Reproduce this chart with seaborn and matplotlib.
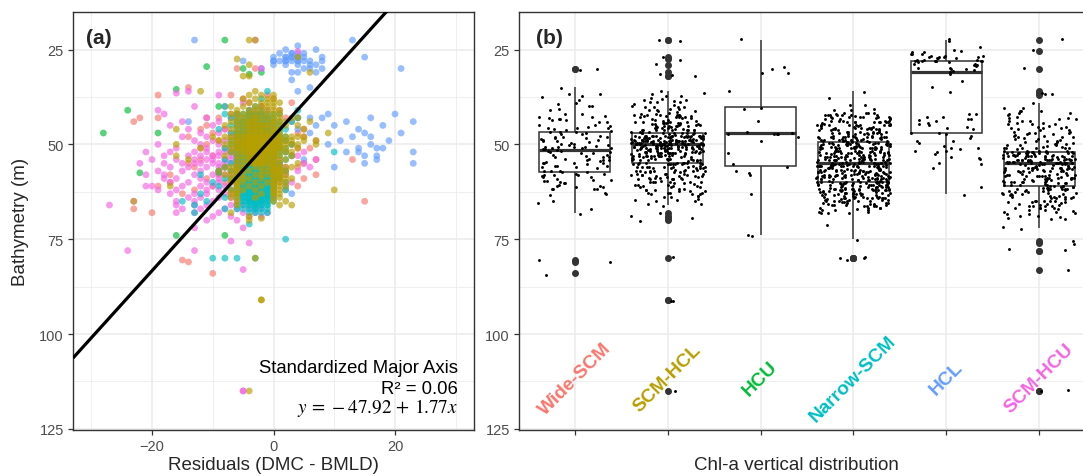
import numpy as np
import pandas as pd
import matplotlib
matplotlib.use("Agg")
import matplotlib.pyplot as plt
import seaborn as sns

# ---------------------------------------------------------------------------
# Data
# ---------------------------------------------------------------------------
categories = ["Wide-SCM", "SCM-HCL", "HCU", "Narrow-SCM", "HCL", "SCM-HCU"]
colors = ["#F8766D", "#B79F00", "#00BA38", "#00BFC4", "#619CFF", "#F564E3"]

# Bathymetry (m) of the stations of each group, listed depth by depth; the
# matching *_resid list holds the residuals (DMC - BMLD, m) of the stations
# found at that depth.
wide_scm_depth = [30, 35, 37, 38, 39, 40, 41, 42, 43, 44, 45, 46,
                  47, 48, 49, 50, 51,
                  52, 53, 54, 55, 56, 57,
                  58, 59, 60, 61, 62, 63, 65, 67, 68, 80.5, 81, 84]
wide_scm_resid = [
    [-6, -3], [-14], [-19, -7, -1], [-5, 0], [3, -4], [-2, -8], [-3, 1],
    [-2, -4, -7], [-22, -19, -9, -11, 2], [-23, -6, -3, 3], [-11, -1, 0, -5],
    [5, -12, -2, -4, -8],
    [-10, -3, -5, -1, 4, -6, -2], [-14, 5, -4, -2, 0, -7], [-9, -3, -1, 2, -5, 7],
    [-11, -4, -2, 0, 3, -6], [-8, -3, -1, 1, -5, 4, -2, -4, 6, -12],
    [-7, -3, -1, 2, -5, -2], [-10, -4, 0, 3, -6, -2], [-12, -3, -1, 7, 13, -5],
    [-14, -4, -2, 1, -6, 5], [-13, -3, -1, -8, 4, -5], [-4, -2, 2, -9, -6],
    [-17, -3, -5, -1, 7, -9], [-4, -2, 5, -11, 0], [-17, -3, -6, 1, -8],
    [-19, 4, -2, -4, -10], [-5, -1, -13, 2], [-3, -7, -15], [15, -4], [-23],
    [-20], [-15], [-14], [-10],
]

scm_hcl_depth = [22.5, 27, 27.5, 29, 31, 32,
                 36, 37, 38, 39, 40, 41, 42, 43, 44, 45, 46, 47,
                 48, 49, 50, 51, 52, 53, 54, 55,
                 56, 57, 58, 59, 60, 61, 62, 63, 64, 65, 66,
                 68, 69, 69.5, 70, 80, 91, 115]
scm_hcl_resid = [
    [-4, -3], [4], [-6], [-4], [6], [-4, -5],
    [-12, -3], [-2, 0, -4], [-3, -1, 0, -5], [-4, -2, -1, 0, 1],
    [-5, -3, -2, -1, 0, -7], [-4, -3, -2, -1, 0, 1, -6],
    [-5, -4, -3, -2, -1, 0, 1, -6, -7],
    [-5, -4, -3, -3, -2, -1, 0, 1, 3, -6, 4],
    [-5, -4, -4, -3, -3, -2, -1, 0, 1, 6, -6, 2, -7, 0],
    [-5, -4, -4, -3, -3, -2, -2, -1, 0, 1, 4, -6, -8, -1, 2],
    [-16, -5, -4, -4, -3, -3, -2, -2, -1, 0, 1, 5, -6, -7, 0],
    [-5, -4, -4, -3, -3, -2, -2, -1, -1, 0, 1, 9, -6],
    [-5, -5, -4, -4, -4, -3, -3, -3, -2, -2, -2, -2, -1, -1, -1, 0, 0, 0,
     1, 1, 2, 3, 4, 5, -6, -6, -7, -8, -10, -3, -2, -4, -1],
    [-5, -5, -4, -4, -4, -3, -3, -3, -3, -2, -2, -2, -2, -1, -1, -1, -1, 0,
     0, 0, 1, 1, 2, 3, 5, 7, -6, -6, -7, -9, -3, -2, -4, -1, 0],
    [-16, -5, -5, -5, -4, -4, -4, -4, -3, -3, -3, -3, -3, -2, -2, -2, -2, -2,
     -1, -1, -1, -1, 0, 0, 0, 0, 1, 1, 2, 3, 4, 7, -6, -6, -7, -8, -3, -2,
     -4, -1],
    [-12, -5, -5, -4, -4, -4, -3, -3, -3, -3, -2, -2, -2, -2, -1, -1, -1, 0,
     0, 0, 1, 1, 2, 4, -6, -6, -7, -3, -2, -1],
    [-5, -5, -4, -4, -3, -3, -3, -2, -2, -2, -1, -1, -1, 0, 0, 0, 1, 2, 3,
     -6, -7, -3, -2, -4],
    [-5, -4, -4, -3, -3, -3, -2, -2, -2, -1, -1, 0, 0, 1, 3, -6, -8, -3, -2,
     -16],
    [-14, -5, -4, -4, -3, -3, -2, -2, -1, -1, 0, 0, 1, 2, -6, -3, -2],
    [-5, -4, -4, -3, -3, -2, -2, -1, -1, 0, 0, 1, 4, -6, -3, -2],
    [-8, -7, -6, -6, -5, 0, 0, 1, 1, 2, 3, -3, -1, -2, 0],
    [-9, -7, -6, -6, -5, 0, 0, 1, 1, 2, -4, -2, -1, 0],
    [-7, -6, -6, -5, 0, 1, 1, 2, -3, -1, 0, -8, -2],
    [-7, -6, -6, 0, 1, 1, 2, -4, -2, 0, -5, 3],
    [-7, -6, -5, 0, 1, 2, -3, -1, 0, -6],
    [-17, -6, -6, 0, 1, -4, -2, 0, 2],
    [10, -7, -6, 0, 1, -3, 0, -5],
    [-6, -6, 0, 1, -2, 0, -7],
    [-6, 0, 1, -3, -7],
    [-23, 2, -6, 0],
    [-6, 1, 3],
    [-7], [-4], [-2], [-4], [-3], [-2, -2], [-4],
]

hcu_depth = [22.5, 29.5, 30, 31, 31.5, 35.5, 40, 41, 44, 47, 48, 49, 52, 55,
             56, 57.5, 58, 63, 74]
hcu_resid = [
    [-8], [-11], [-5], [-2], [-4], [-16], [-9], [-24], [-4],
    [-28, -19, -3, -1, -5, -2], [0], [-3], [-2], [-4], [-1], [-22, -9], [-3],
    [-2], [-16, -8],
]

narrow_scm_depth = [36, 38, 40, 41, 42, 43, 44, 45, 46, 47, 48, 49,
                    50, 51, 52, 53, 54, 55, 56, 57, 58, 59, 60,
                    61, 62, 63, 64, 65, 66, 67, 68, 71, 75, 80]
narrow_scm_resid = [
    [-1], [-2], [-8, -3], [-4, 4, -2],
    [-8, -5, -4, -4, -3, -3, -2, -2, -1, 0, 1, -6],
    [-5, -4, -4, -3, -3, -2, -2, -1, -1, 0, 4, -6, -7],
    [-5, -5, -4, -4, -3, -3, -2, -2, -1, -1, 0, 1, -6, 3],
    [-5, -5, -4, -4, -3, -3, -3, -2, -2, -1, -1, 0, 1, -6, -7],
    [-9, -5, -5, -4, -4, -3, -3, -3, -2, -2, -1, -1, 0, 1, -6, 2],
    [-7, -5, -5, -4, -4, -4, -3, -3, -3, -2, -2, -1, -1, 0, 1, -6, -6],
    [-5, -5, -4, -4, -4, -3, -3, -3, -2, -2, -2, -1, -1, 0, 1, -6, -6, 2],
    [-5, -5, -4, -4, -4, -3, -3, -3, -2, -2, -2, -1, -1, 0, 1, -6, -7, 2],
    [-5, -5, -5, -4, -4, -4, -3, -3, -3, -3, -2, -2, -2, -1, -1, -1, 0, 0, 1,
     -6, -6, -7, 3],
    [-5, -5, -5, -4, -4, -4, -3, -3, -3, -3, -2, -2, -2, -1, -1, -1, 0, 0, 1,
     -6, -6, -8, 2],
    [10, -5, -5, -4, -4, -4, -4, -3, -3, -3, -3, -2, -2, -2, -1, -1, -1, 0, 0,
     1, -6, -7, 2],
    [-5, -5, -5, -4, -4, -4, -3, -3, -3, -3, -2, -2, -2, -1, -1, -1, 0, 0, 1,
     -6, -6, 3],
    [-5, -5, -5, -4, -4, -4, -3, -3, -3, -3, -2, -2, -2, -1, -1, -1, 0, 0, -6,
     -6, -8, 2],
    [-5, -5, -5, -4, -4, -4, -4, -3, -3, -3, -3, -2, -2, -2, -1, -1, -1, 0, 0,
     1, -6, -7],
    [-5, -5, -5, -4, -4, -4, -4, -3, -3, -3, -3, -3, -2, -2, -2, -2, -1, -1,
     -1, 0, 0, 1, -6, -6, -8],
    [-5, -5, -5, -4, -4, -4, -4, -3, -3, -3, -3, -3, -2, -2, -2, -2, -1, -1,
     -1, 0, 0, 2, -6, -7, -9],
    [-5, -5, -5, -4, -4, -4, -4, -3, -3, -3, -3, -3, -2, -2, -2, -2, -1, -1,
     -1, 0, 0, 1, -6, -6, -12],
    [-5, -5, -5, -4, -4, -4, -4, -3, -3, -3, -3, -3, -2, -2, -2, -2, -1, -1,
     -1, 0, 0, 1, -6, -7, -8],
    [-5, -5, -5, -4, -4, -4, -4, -3, -3, -3, -3, -3, -2, -2, -2, -2, -1, -1,
     -1, 0, 0, 2, -6, -6, -10],
    [-5, -5, -5, -4, -4, -4, -4, -3, -3, -3, -3, -2, -2, -2, -2, -1, -1, -1,
     0, 0, -6, -9],
    [-5, -5, -5, -4, -4, -4, -4, -3, -3, -3, -3, -2, -2, -2, -2, -1, -1, -1,
     0, 2, -6, -7],
    [-5, -5, -4, -4, -4, -4, -3, -3, -3, -3, -2, -2, -2, -2, -1, -1, -1, 0,
     -6, -12],
    [-5, -5, -4, -4, -4, -3, -3, -3, -3, -2, -2, -2, -1, -1, -1, 0, -6, -8],
    [-5, -5, -4, -4, -4, -3, -3, -3, -2, -2, -2, -1, -1, 0, -11, -15],
    [-5, -4, -4, -3, -3, -3, -2, -2, -1, -1, -6, -13],
    [-5, -4, -3, -3, -2, -1, -8, -6],
    [-4, -3, -2, -1, -13],
    [-4], [2], [-10, -8, -6, -3],
]

hcl_depth = [22.5, 24, 25, 26, 27, 28, 29, 30, 31, 33, 35, 36,
             42, 43, 44, 45, 46, 47, 48, 49, 50, 51, 52, 53, 54, 55, 56, 61, 63]
hcl_resid = [
    [-13, 13], [4], [7, 2], [1, 3, 3, 4, 5],
    [2, 2, 3, 3, 4, 4, 5, 8, 15, 0],
    [-5, 0, 0, 1, 2, 2, 3, 4, 4, 6, 8, 5],
    [0, 2, 4, 6, 7], [-2, 5, 6, 8, 21], [7, 4, 3], [3], [6], [4],
    [20, 9], [4, 6, 8, 16], [23, 12, -14], [7, 10, 18], [14, 4], [15, 21, 6],
    [16, 13], [11, 19], [16, 9], [18, 14, 17], [14, 23, 12], [15, 17], [17, 5],
    [15, 23], [10], [2], [3],
]

scm_hcu_depth = [22.5, 25.5, 30, 36, 36.5, 37,
                 39, 40, 41, 42, 43, 44, 45, 46, 47, 48, 49, 50, 51,
                 52, 53, 54, 55, 56, 57, 58, 59, 60, 61,
                 62, 63, 64, 65, 66, 67, 68, 69, 70, 72,
                 75.5, 76, 78, 83, 115]
scm_hcu_resid = [
    [-3], [4], [-2], [-14], [-16], [-9],
    [-5], [-13, -2], [-19, -4, -1], [-18, -6, -3, -2], [-11, -7, -4, -2, -1],
    [-15, -9, -5, -3, -1], [-17, -10, -6, -4, -3, -2], [-14, -8, -5, -4, -2, -1],
    [-12, -9, -7, -5, -3, -2, 0], [-15, -11, -6, -4, -3, -2, -1],
    [-13, -10, -8, -5, -4, -3, -2, -1], [-19, -12, -9, -6, -4, -3, -2, -1],
    [-16, -11, -7, -6, -5, -4, -3, -2, -1],
    [-21, -17, -13, -11, -9, -8, -7, -6, -5, -5, -4, -4, -3, -3, -2, -2, -1,
     -1, 0, 5],
    [-18, -14, -12, -10, -9, -7, -6, -6, -5, -5, -4, -4, -3, -3, -2, -2, -1,
     -1, 0, 4],
    [-20, -16, -13, -11, -10, -8, -7, -6, -6, -5, -5, -4, -4, -3, -3, -2, -2,
     -1, -1, 0, 1, 7],
    [-22, -18, -15, -13, -12, -10, -9, -8, -7, -6, -6, -5, -5, -4, -4, -3, -3,
     -2, -2, -1, -1, 0, 1, 5],
    [-17, -14, -11, -9, -8, -6, -5, -5, -4, -3, -3, -2, -1, 0, 2, 6],
    [-19, -15, -12, -9, -7, -6, -5, -4, -3, -2, -1, 0, 1, 4],
    [-21, -18, -13, -10, -8, -6, -5, -4, -3, -2, -1, 0, 2, -7],
    [-18, -16, -12, -9, -7, -5, -4, -3, -2, -1, 0, 1, -6],
    [-17, -14, -11, -9, -7, -6, -5, -4, -3, -2, -1, 0, 3],
    [-21, -20, -15, -12, -10, -8, -6, -5, -4, -3, -2, -1, 0],
    [-19, -16, -11, -9, -7, -6, -5, -4, -3, -2, -1, 0],
    [-17, -13, -11, -8, -6, -5, -4, -3, -2, -1, 0],
    [-14, -12, -9, -7, -5, -4, -3, -2, -1, 0],
    [-23, -16, -13, -10, -6, -4, -3, -2, -1],
    [-27, -16, -13, -11, -7, -5, -3, -2],
    [-15, -12, -8, -6, -4, -3, -2],
    [-16, -13, -9, -5, -3, -1],
    [-10, -7, -4, -2], [-11, -6], [-13, -5],
    [-7], [-4], [-24, -13], [-5], [-5, -5],
]

# Standardized major axis fit of -bathymetry on the residuals
sma_intercept = -47.92
sma_slope = 1.77
sma_r2 = 0.06


def group_frame(name, depths, resids):
    rows = [(name, r, d) for d, rs in zip(depths, resids, strict=True) for r in rs]
    return pd.DataFrame(rows, columns=["group", "resid", "depth"])


frames = {
    "Wide-SCM": group_frame("Wide-SCM", wide_scm_depth, wide_scm_resid),
    "SCM-HCL": group_frame("SCM-HCL", scm_hcl_depth, scm_hcl_resid),
    "HCU": group_frame("HCU", hcu_depth, hcu_resid),
    "Narrow-SCM": group_frame("Narrow-SCM", narrow_scm_depth, narrow_scm_resid),
    "HCL": group_frame("HCL", hcl_depth, hcl_resid),
    "SCM-HCU": group_frame("SCM-HCU", scm_hcu_depth, scm_hcu_resid),
}
data = pd.concat([frames[c] for c in categories], ignore_index=True)
# drawing order of the scatter (later groups end up on top)
scatter_order = ["Wide-SCM", "HCU", "HCL", "SCM-HCU", "Narrow-SCM", "SCM-HCL"]
scatter_data = pd.concat([frames[c] for c in scatter_order], ignore_index=True)

# ---------------------------------------------------------------------------
# Style
# ---------------------------------------------------------------------------
sns.set_style("white")
plt.rcParams["font.family"] = ["Liberation Sans", "DejaVu Sans"]
plt.rcParams["mathtext.fontset"] = "stix"

GRID = "#EBEBEB"
DARK = "#333333"
TICKTXT = "#4D4D4D"

W, H = 1083, 477
fig = plt.figure(figsize=(W / 100, H / 100), dpi=100)
ax1 = fig.add_axes([73 / W, 46 / H, 401 / W, 418 / H])
ax2 = fig.add_axes([519 / W, 46 / H, 576 / W, 418 / H])

y_lim = (125.3, 15.1)


def style_axes(ax):
    for s in ax.spines.values():
        s.set_color(DARK)
        s.set_linewidth(1.0)
    ax.tick_params(axis="both", which="major", length=3.5, width=0.9,
                   color=DARK, labelcolor=TICKTXT, labelsize=10.5, pad=3,
                   left=True, bottom=True)
    ax.tick_params(axis="both", which="minor", length=0)
    ax.set_axisbelow(True)
    ax.grid(True, which="major", color=GRID, linewidth=1.1)
    ax.grid(True, which="minor", color=GRID, linewidth=0.55)


# ---------------------------------------------------------------------------
# (a) residuals vs bathymetry
# ---------------------------------------------------------------------------
sns.scatterplot(data=scatter_data, x="resid", y="depth", hue="group",
                hue_order=categories, palette=colors, s=24, alpha=0.65,
                linewidth=0, legend=False, ax=ax1)
ax1.set_xlim(-33, 33)
ax1.set_ylim(*y_lim)
ax1.set_xticks([-20, 0, 20])
ax1.set_xticks([-30, -10, 10, 30], minor=True)
ax1.set_yticks([25, 50, 75, 100, 125])
ax1.set_yticks([37.5, 62.5, 87.5, 112.5], minor=True)
style_axes(ax1)

xs = np.array(ax1.get_xlim())
ax1.plot(xs, -(sma_intercept + sma_slope * xs), color="black", linewidth=2.3,
         solid_capstyle="butt", zorder=5)
ax1.set_xlim(-33, 33)
ax1.set_ylim(*y_lim)

ax1.set_xlabel("")
ax1.set_ylabel("")
ax1.text(30.4, 110.0, "Standardized Major Axis", ha="right", va="baseline",
         fontsize=13.3, color="black")
ax1.text(30.4, 115.5, f"R\u00b2 = {sma_r2:.2f}", ha="right", va="baseline",
         fontsize=13.3, color="black")
ax1.text(30.4, 120.6, f"$y\\,=\\,{sma_intercept:.2f}\\,+\\,{sma_slope:.2f}x$",
         ha="right", va="baseline", fontsize=13.8, color="black")
ax1.text(0.032, 0.962, "(a)", transform=ax1.transAxes, ha="left", va="top",
         fontsize=15, fontweight="bold")

# ---------------------------------------------------------------------------
# (b) bathymetry by Chl-a vertical distribution
# ---------------------------------------------------------------------------
sns.boxplot(data=data, x="group", y="depth", order=categories, width=0.76,
            color="white", linecolor=DARK, linewidth=1.1, showcaps=False,
            fliersize=4.0,
            flierprops=dict(marker="o", markerfacecolor=DARK,
                            markeredgecolor=DARK),
            medianprops=dict(linewidth=2.3, color=DARK), ax=ax2)
n_before = len(ax2.collections)
sns.stripplot(data=data, x="group", y="depth", order=categories,
              color="black", size=2.1, jitter=0.4, linewidth=0, ax=ax2)
# small vertical jitter, as geom_jitter does
rng = np.random.default_rng(7)
for coll in ax2.collections[n_before:]:
    offs = np.asarray(coll.get_offsets()).copy()
    if len(offs):
        offs[:, 1] += rng.uniform(-0.4, 0.4, len(offs))
        coll.set_offsets(offs)

ax2.set_xlim(-0.6, 5.6)
ax2.set_ylim(*y_lim)
ax2.set_xticks(range(len(categories)))
ax2.set_xticklabels([])
ax2.set_yticks([25, 50, 75, 100, 125])
ax2.set_yticks([37.5, 62.5, 87.5, 112.5], minor=True)
style_axes(ax2)
ax2.set_xlabel("")
ax2.set_ylabel("")
for i, (name, col) in enumerate(zip(categories, colors)):
    ax2.text(i, 111.6, name, color=col, rotation=45, rotation_mode="anchor",
             ha="center", va="center", fontsize=13.8, fontweight="bold")
ax2.text(0.03, 0.962, "(b)", transform=ax2.transAxes, ha="left", va="top",
         fontsize=15, fontweight="bold")

# axis titles
fig.text(273.5 / W, 1 - 466 / H, "Residuals (DMC - BMLD)", ha="center",
         va="center", fontsize=13.5)
fig.text(796 / W, 1 - 466 / H, "Chl-a vertical distribution", ha="center",
         va="center", fontsize=13.5)
fig.text(20.7 / W, 1 - 222 / H, "Bathymetry (m)", ha="center", va="center",
         rotation=90, fontsize=13.5)

fig.savefig("out.png", dpi=100)
